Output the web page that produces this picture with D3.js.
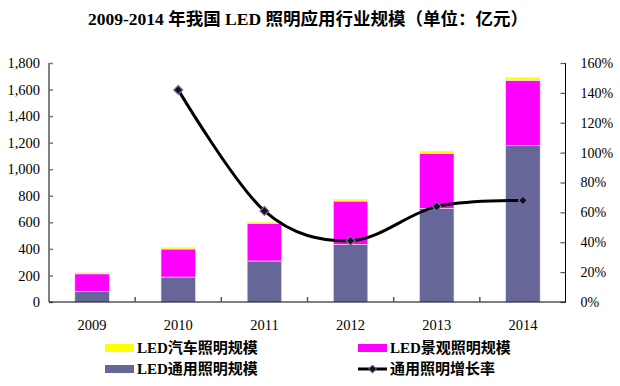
<!DOCTYPE html>
<html>
<head>
<meta charset="utf-8">
<script src="https://cdn.jsdelivr.net/npm/d3@7"></script>
<style>
  body { margin: 0; background: #fff; }
  svg text { font-family: "Liberation Serif", "Noto Sans CJK SC", serif; fill: #000; }
</style>
</head>
<body>
<svg id="chart" width="620" height="386"></svg>
<script>
// chart data (亿元)
const years = ['2009', '2010', '2011', '2012', '2013', '2014'];
const generalLight = [80, 188, 309, 434, 705, 1177];     // LED通用照明规模
const landscapeLight = [132, 211, 283, 326, 412, 492];   // LED景观照明规模
const autoLight = [10, 10, 10, 13, 20, 20];              // LED汽车照明规模
const growthRate = [null, 1.42, 0.61, 0.41, 0.64, 0.68]; // 通用照明增长率
const leftTicks = [0, 200, 400, 600, 800, 1000, 1200, 1400, 1600, 1800];
const rightTicks = [0, 0.2, 0.4, 0.6, 0.8, 1.0, 1.2, 1.4, 1.6];

const svg = d3.select('#chart');
const margin = { left: 49, right: 54, top: 63, bottom: 84 };
const W = 620, H = 386;

const x = d3.scaleBand()
    .domain(years)
    .range([margin.left, W - margin.right])
    .paddingInner(0.6)
    .paddingOuter(0.3);

const y = d3.scaleLinear().domain([0, 1800]).range([H - margin.bottom, margin.top]);
const y2 = d3.scaleLinear().domain([0, 1.6]).range([H - margin.bottom, margin.top]);

// title
svg.append('text')
    .attr('x', 308)
    .attr('y', 25)
    .attr('text-anchor', 'middle')
    .style('font-size', '17.5px')
    .style('font-weight', 'bold')
    .text('2009-2014 年我国 LED 照明应用行业规模（单位：亿元）');

// stacked bars
const series = [
    { name: 'LED通用照明规模', values: generalLight, color: '#666699' },
    { name: 'LED景观照明规模', values: landscapeLight, color: '#ff00ff' },
    { name: 'LED汽车照明规模', values: autoLight, color: '#ffff00' }
];
const rows = years.map((yr, i) => ({ year: yr, general: generalLight[i], landscape: landscapeLight[i], auto: autoLight[i] }));
const stack = d3.stack().keys(['general', 'landscape', 'auto'])(rows);

svg.append('g')
    .selectAll('g')
    .data(stack)
    .join('g')
    .attr('fill', (d, i) => series[i].color)
    .selectAll('rect')
    .data(d => d)
    .join('rect')
    .attr('x', d => x(d.data.year))
    .attr('width', x.bandwidth())
    .attr('y', d => y(d[1]))
    .attr('height', d => y(d[0]) - y(d[1]))
    .attr('stroke', '#e8e8f0')
    .attr('stroke-width', 0.6);

// axes
const axisColor = '#000';
const leftAxis = d3.axisLeft(y).tickValues(leftTicks).tickSize(-4).tickPadding(9)
    .tickFormat(d3.format(','));
svg.append('g')
    .attr('transform', `translate(${margin.left},0)`)
    .call(leftAxis)
    .call(g => g.select('.domain').attr('d', `M0,${y(0)}V${y(1800)}`))
    .call(g => g.selectAll('.tick line').attr('stroke', '#777').attr('stroke-width', 1.5))
    .call(g => g.selectAll('text').style('font-size', '14.5px'));

const rightAxis = d3.axisRight(y2).tickValues(rightTicks).tickSize(-5).tickPadding(20)
    .tickFormat(d3.format('.0%'));
svg.append('g')
    .attr('transform', `translate(${W - margin.right - 0.5},0)`)
    .call(rightAxis)
    .call(g => g.select('.domain').attr('d', `M0,${y2(0)}V${y2(1.6)}`))
    .call(g => g.selectAll('.tick line').attr('stroke', '#555').attr('stroke-width', 1.2))
    .call(g => g.selectAll('text').attr('text-anchor', 'start').attr('dx', -5).style('font-size', '14px'));

// x axis with boundary ticks between categories
const xAxisG = svg.append('g').attr('transform', `translate(0,${y(0)})`);
xAxisG.append('line')
    .attr('x1', margin.left).attr('x2', W - margin.right)
    .attr('stroke', axisColor);
const step = x.step();
xAxisG.selectAll('line.bound')
    .data(years.slice(1))
    .join('line')
    .attr('class', 'bound')
    .attr('x1', d => x(d) + x.bandwidth() / 2 - step / 2)
    .attr('x2', d => x(d) + x.bandwidth() / 2 - step / 2)
    .attr('y1', 0).attr('y2', -5)
    .attr('stroke', '#555').attr('stroke-width', 1.5);
xAxisG.selectAll('text')
    .data(years)
    .join('text')
    .attr('x', d => x(d) + x.bandwidth() / 2)
    .attr('y', 28)
    .attr('text-anchor', 'middle')
    .style('font-size', '14.5px')
    .text(d => d);

// growth rate line
const pts = years.map((yr, i) => ({ year: yr, v: growthRate[i] })).filter(d => d.v !== null);
const line = d3.line()
    .x(d => x(d.year) + x.bandwidth() / 2)
    .y(d => y2(d.v))
    .curve(d3.curveCardinal.tension(0));
svg.append('path')
    .datum(pts)
    .attr('d', line)
    .attr('fill', 'none')
    .attr('stroke', '#000')
    .attr('stroke-width', 3);
const diamond = d3.symbol().type(d3.symbolDiamond2).size(50);
svg.append('g')
    .selectAll('path')
    .data(pts)
    .join('path')
    .attr('transform', d => `translate(${x(d.year) + x.bandwidth() / 2},${y2(d.v)})`)
    .attr('d', diamond)
    .attr('fill', '#111')
    .attr('stroke', '#7a6aa8')
    .attr('stroke-width', 1.2);

// legend
const legend = svg.append('g').style('font-size', '15px').style('font-weight', 'bold');
const legendItems = [
    { label: 'LED汽车照明规模', color: '#ffff00', lx: 105, ly: 348 },
    { label: 'LED景观照明规模', color: '#ff00ff', lx: 358, ly: 348 },
    { label: 'LED通用照明规模', color: '#666699', lx: 105, ly: 369 },
    { label: '通用照明增长率', line: true, lx: 358, ly: 369 }
];
legendItems.forEach(it => {
    if (it.line) {
        legend.append('line')
            .attr('x1', it.lx).attr('x2', it.lx + 29)
            .attr('y1', it.ly).attr('y2', it.ly)
            .attr('stroke', '#000').attr('stroke-width', 3);
        legend.append('path')
            .attr('transform', `translate(${it.lx + 14.5},${it.ly})`)
            .attr('d', d3.symbol().type(d3.symbolDiamond2).size(40)())
            .attr('fill', '#111').attr('stroke', '#7a6aa8');
    } else {
        legend.append('rect')
            .attr('x', it.lx).attr('y', it.ly - 4)
            .attr('width', 29).attr('height', 8)
            .attr('fill', it.color);
    }
    legend.append('text')
        .attr('x', it.lx + 32)
        .attr('y', it.ly + 5)
        .text(it.label);
});
</script>
</body>
</html>
